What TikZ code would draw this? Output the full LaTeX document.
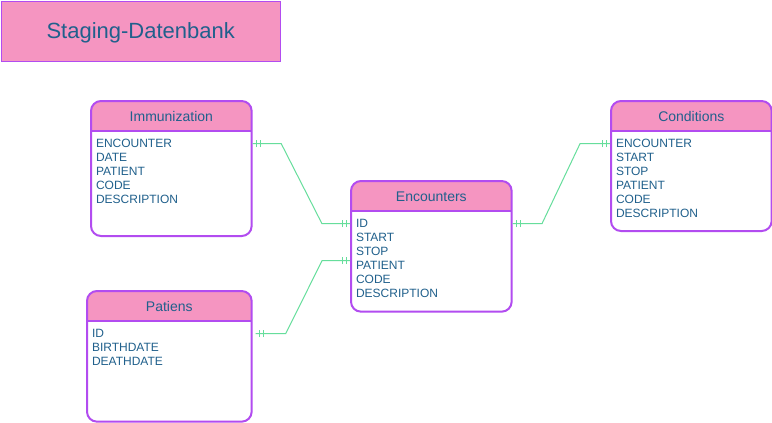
\documentclass[tikz,border=0pt]{standalone}
\usepackage{fontspec}
\setmainfont{Liberation Sans}
\usetikzlibrary{calc,decorations.markings}

\definecolor{entpink}{HTML}{F595C1}
\definecolor{entpurple}{HTML}{B24CF0}
\definecolor{txtblue}{HTML}{20608C}
\definecolor{relgreen}{HTML}{66DE9C}

\tikzset{
  titlebox/.style={draw=entpurple, line width=0.75pt, fill=entpink, anchor=north west,
    minimum width=209.6pt, minimum height=45pt, inner sep=0pt, text=txtblue,
    text depth=0pt, font=\fontsize{16.5}{20}\selectfont},
  entity/.style={draw=entpurple, line width=1.5pt, rounded corners=7.5pt, fill=white,
    anchor=north west, inner sep=0pt,
    path picture={
      \fill[entpink, sharp corners] (path picture bounding box.north west)
        rectangle ([yshift=-22.5pt]path picture bounding box.north east);
      \draw[entpurple, line width=1.5pt, sharp corners]
        ([yshift=-22.5pt]path picture bounding box.north west)
        -- ([yshift=-22.5pt]path picture bounding box.north east);}},
  headtext/.style={text=txtblue, inner sep=0pt, font=\fontsize{10.5}{12}\selectfont},
  item/.style={text=txtblue, inner sep=0pt, anchor=base west, font=\fontsize{9}{10.5}\selectfont},
  relline/.style={draw=relgreen, line width=0.75pt, postaction={decorate},
    decoration={markings,
      mark=at position 2.5pt with {\draw[relgreen, line width=0.75pt] (0,-2.6pt) -- (0,2.6pt);},
      mark=at position 5.5pt with {\draw[relgreen, line width=0.75pt] (0,-2.6pt) -- (0,2.6pt);},
      mark=at position -2.5pt with {\draw[relgreen, line width=0.75pt] (0,-2.6pt) -- (0,2.6pt);},
      mark=at position -5.5pt with {\draw[relgreen, line width=0.75pt] (0,-2.6pt) -- (0,2.6pt);}}}
}

\begin{document}
\begin{tikzpicture}[x=0.75pt, y=-0.75pt]
    \path[use as bounding box, fill=white] (0,0) rectangle (772,422);

    % Title
    \node[titlebox] (title) at (0.5,0.5) {Staging-Datenbank};

    % Immunization table
    \node[entity, minimum width=120.5pt, minimum height=101.25pt] (imm) at (90,100) {};
    \node[headtext] (imm-h) at ([yshift=-12.4pt]imm.north) {Immunization};
    \foreach \t [count=\i] in {ENCOUNTER,DATE,PATIENT,CODE,DESCRIPTION}
        \node[item] (imm-\i) at ([xshift=4.3pt, yshift=-35.9pt-(\i-1)*10.5pt]imm.north west) {\t};

    % Patiens table
    \node[entity, minimum width=123.5pt, minimum height=98pt] (pat) at (86,290) {};
    \node[headtext] (pat-h) at ([yshift=-12.4pt]pat.north) {Patiens};
    \foreach \t [count=\i] in {ID,BIRTHDATE,DEATHDATE}
        \node[item] (pat-\i) at ([xshift=4.3pt, yshift=-35.9pt-(\i-1)*10.5pt]pat.north west) {\t};

    % Encounters table
    \node[entity, minimum width=120.5pt, minimum height=98pt] (enc) at (350,180) {};
    \node[headtext] (enc-h) at ([yshift=-12.4pt]enc.north) {Encounters};
    \foreach \t [count=\i] in {ID,START,STOP,PATIENT,CODE,DESCRIPTION}
        \node[item] (enc-\i) at ([xshift=4.3pt, yshift=-35.9pt-(\i-1)*10.5pt]enc.north west) {\t};

    % Conditions table
    \node[entity, minimum width=120.5pt, minimum height=97.5pt] (con) at (610,100) {};
    \node[headtext] (con-h) at ([yshift=-12.4pt]con.north) {Conditions};
    \foreach \t [count=\i] in {ENCOUNTER,START,STOP,PATIENT,CODE,DESCRIPTION}
        \node[item] (con-\i) at ([xshift=4.3pt, yshift=-35.9pt-(\i-1)*10.5pt]con.north west) {\t};

    % Relations
    \draw[relline] (imm.east |- imm-1) -- ++(28.6,0)
        -- ($(enc.west |- enc-1)+(-28,0)$) -- (enc.west |- enc-1);
    \draw[relline] ($(pat.east |- pat-1)+(3,0)$) -- ++(30,0)
        -- ($(enc.west |- enc-4)+(-28,-5)$) -- ($(enc.west |- enc-4)+(0,-5)$);
    \draw[relline] (enc.east |- enc-1) -- ++(29.3,0)
        -- ($(con.west |- con-1)+(-30,0)$) -- (con.west |- con-1);
\end{tikzpicture}
\end{document}
